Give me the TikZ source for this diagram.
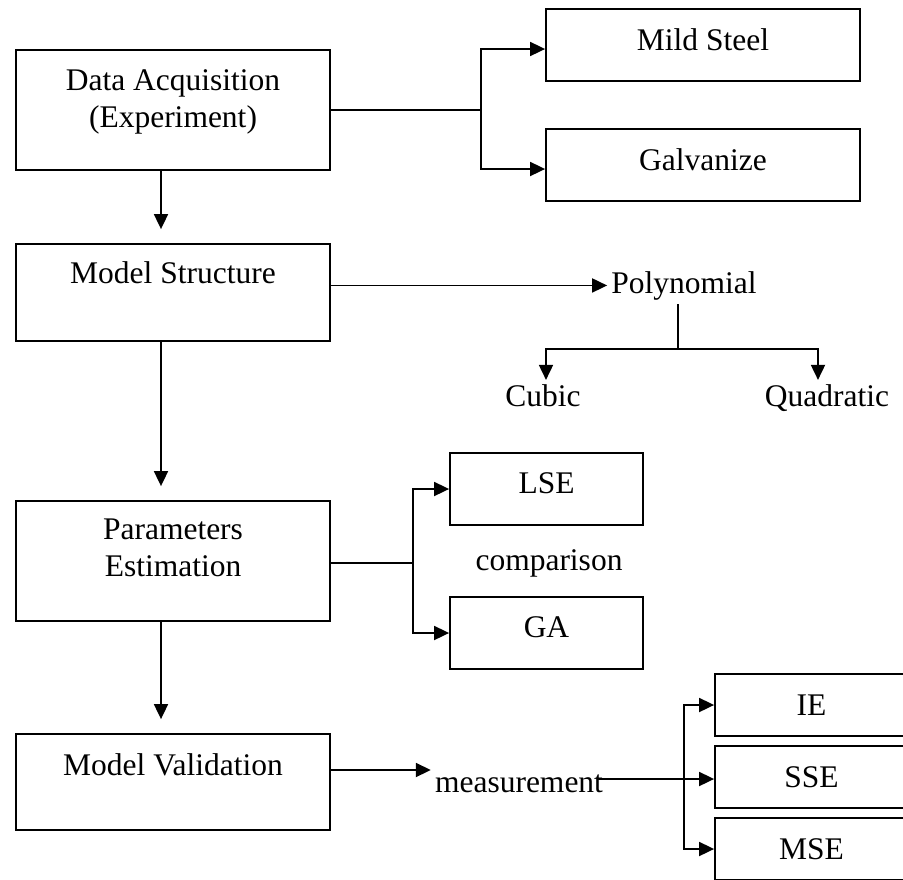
\documentclass[tikz,border=0pt]{standalone}
\usepackage{fontspec}
\setmainfont{Liberation Serif}
\usetikzlibrary{arrows.meta,positioning}

\begin{document}
\begin{tikzpicture}[x=1pt,y=-1pt,line width=1.8pt,font=\fontsize{31.5}{37}\selectfont,
    box/.style={draw,minimum width=314pt,minimum height=72pt},
    sbox/.style={draw,minimum width=193pt,minimum height=72pt},
    arr/.style={-{Triangle[length=15pt,width=14pt]}},
    down/.style={arr,shorten >=14pt}]
\useasboundingbox (0,0) rectangle (903,879);
\clip (0,0) rectangle (903,879);

    \node[box,minimum height=120pt] (acq) at (173,110) {};
    \node[below=16pt of acq.north,align=center] (acqtext) {Data Acquisition\\(Experiment)};
    \node[box,minimum height=97pt] (ms) at (173,292.5) {};
    \node[below=14pt of ms.north] (mstext) {Model Structure};
    \node[box,minimum height=120pt] (pe) at (173,561) {};
    \node[below=15pt of pe.north,align=center] (petext) {Parameters\\Estimation};
    \node[box,minimum height=96pt] (mv) at (173,782) {};
    \node[below=16pt of mv.north] (mvtext) {Model Validation};

    \node[box,text depth=11pt] (steel) at (703,45) {Mild Steel};
    \node[box,text depth=11pt] (galv) at (703,165) {Galvanize};

    \node[anchor=base] (poly) at (684,293) {Polynomial};
    \node[anchor=base] (cubic) at (543,406) {Cubic};
    \node[anchor=base] (quad) at (827,406) {Quadratic};

    \node[sbox,text depth=11pt] (lse) at (546.5,489) {LSE};
    \node[anchor=base] (comp) at (549,570) {comparison};
    \node[sbox,text depth=11pt] (ga) at (546.5,633) {GA};

    \node[anchor=base] (meas) at (519,792) {measurement};
    \node[sbox,minimum height=62pt] (ie) at (811.5,705) {IE};
    \node[sbox,minimum height=62pt] (sse) at (811.5,777) {SSE};
    \node[sbox,minimum height=62pt] (mse) at (811.5,849) {MSE};

    \coordinate (j1) at (481,110);
    \coordinate (j2) at (678,349);
    \coordinate (j3) at (413,563);
    \coordinate (j4) at (684,779);

    \draw (acq) -- (j1);
    \draw[arr] (j1) |- ([yshift=-4pt]steel.west);
    \draw[arr] (j1) |- ([yshift=-4pt]galv.west);

    \draw[down] ([xshift=-12pt]acq.south) -- ([xshift=-12pt]ms.north);
    \draw[down] ([xshift=-12pt]ms.south) -- ([xshift=-12pt]pe.north);
    \draw[down] ([xshift=-12pt]pe.south) -- ([xshift=-12pt]mv.north);

    \draw[arr] (ms.east |- poly) -- (poly);
    \draw (poly.south -| j2) -- (j2);
    \draw[arr] (j2) -| ([xshift=3pt]cubic.north);
    \draw[arr] (j2) -| ([xshift=-9pt]quad.north);

    \draw (pe.east |- j3) -- (j3);
    \draw[arr] (j3) |- (lse);
    \draw[arr] (j3) |- (ga);

    \draw[arr] ([yshift=12pt]mv.east) -- ([yshift=12pt]mv.east -| meas.west);
    \draw[arr] ([xshift=-10pt]meas.east |- j4) -- (sse.west |- j4);
    \draw[arr] (j4) |- (ie.west);
    \draw[arr] (j4) |- (mse.west);
\end{tikzpicture}
\end{document}
